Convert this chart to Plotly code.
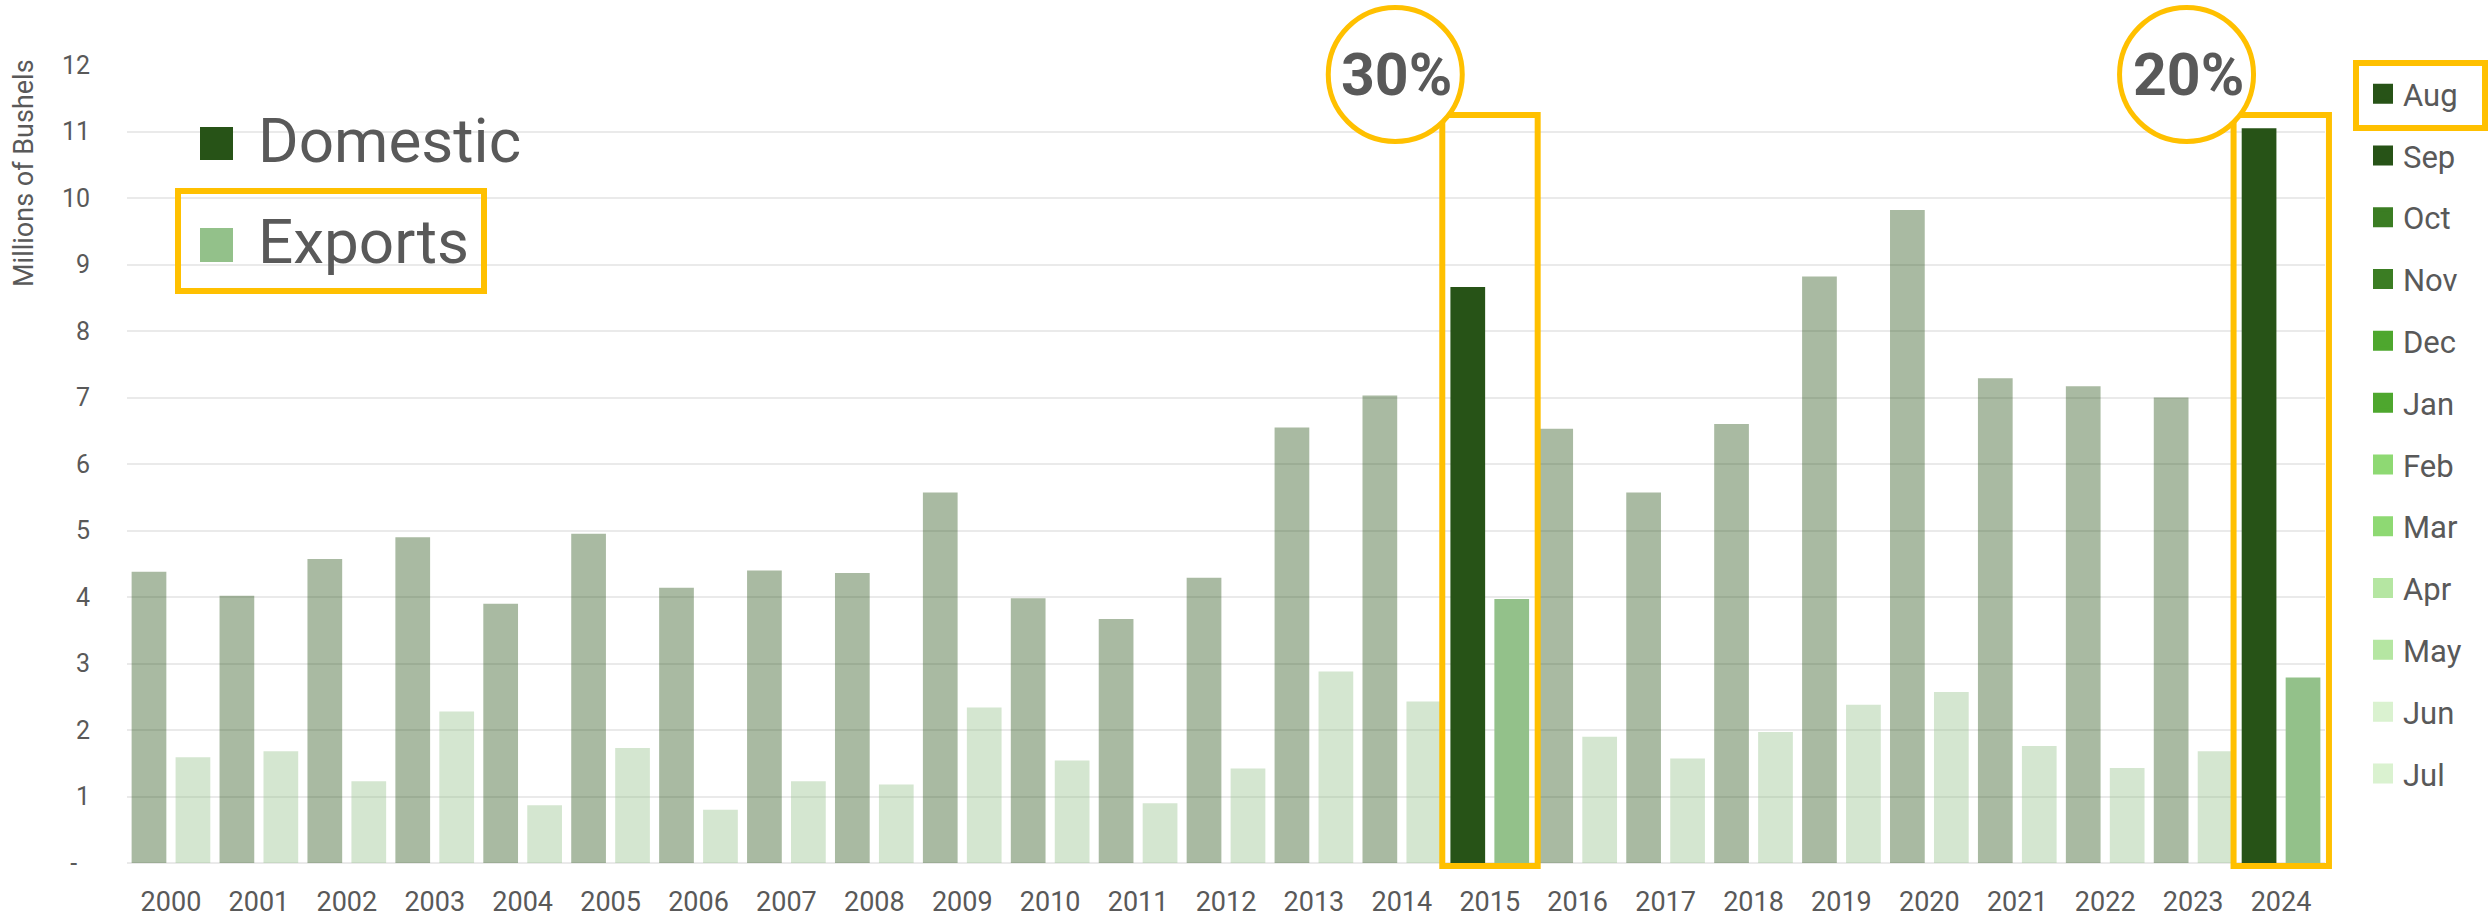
import plotly.graph_objects as go

# ---------------- data ----------------
years = ["2000", "2001", "2002", "2003", "2004", "2005", "2006", "2007", "2008",
         "2009", "2010", "2011", "2012", "2013", "2014", "2015", "2016", "2017",
         "2018", "2019", "2020", "2021", "2022", "2023", "2024"]
domestic = [4.38, 4.02, 4.57, 4.90, 3.90, 4.95, 4.14, 4.40, 4.36, 5.57, 3.98, 3.67,
            4.29, 6.55, 7.03, 8.66, 6.53, 5.57, 6.60, 8.82, 9.82, 7.29, 7.17, 7.00, 11.05]
exports = [1.59, 1.68, 1.23, 2.28, 0.87, 1.73, 0.80, 1.23, 1.18, 2.34, 1.54, 0.90,
           1.42, 2.88, 2.43, 3.97, 1.90, 1.57, 1.97, 2.38, 2.57, 1.76, 1.43, 1.68, 2.79]
highlight_years = ["2015", "2024"]
callout_labels = ["30%", "20%"]
months = ["Aug", "Sep", "Oct", "Nov", "Dec", "Jan", "Feb", "Mar", "Apr", "May", "Jun", "Jul"]
y_tickvals = [0, 1, 2, 3, 4, 5, 6, 7, 8, 9, 10, 11, 12]
y_ticktext = ["-\u2002", "1", "2", "3", "4", "5", "6", "7", "8", "9", "10", "11", "12"]

# ---------------- styles ----------------
FONT = "Roboto, Liberation Sans, sans-serif"
TXT = "#595959"
YELLOW = "#FFC000"
DOM_RGB = (39, 83, 23)
EXP_RGB = (147, 193, 138)
month_colors = ["#275317", "#275317", "#3B7D23", "#3B7D23", "#4EA72E", "#4EA72E",
                "#8ED973", "#8ED973", "#B5E6A2", "#B5E6A2", "#DAF2D0", "#DAF2D0"]
Y_MAX = 12


def rgba(rgb, a):
    return "rgba(%d,%d,%d,%.2f)" % (rgb[0], rgb[1], rgb[2], a)


dom_colors = [rgba(DOM_RGB, 1.0 if y in highlight_years else 0.4) for y in years]
exp_colors = [rgba(EXP_RGB, 1.0 if y in highlight_years else 0.4) for y in years]

fig = go.Figure()
fig.add_trace(go.Bar(x=years, y=domestic, name="Domestic", marker=dict(color=dom_colors, line=dict(width=0)),
                     showlegend=False))
fig.add_trace(go.Bar(x=years, y=exports, name="Exports", marker=dict(color=exp_colors, line=dict(width=0)),
                     showlegend=False))

# month legend (legend-only entries)
for m, c in zip(months, month_colors):
    fig.add_trace(go.Scatter(x=[None], y=[None], mode="markers", name=m, legendgroup=m,
                             marker=dict(symbol="square", size=16, color=c, line=dict(width=4, color=c)),
                             showlegend=True, hoverinfo="skip"))

W, H = 2489, 917
ML, MR, MT, MB = 127, 164, 65, 54
PW = W - ML - MR
PH = H - MT - MB
N = len(years)


def px(xp):
    return (xp - ML) / PW


def py(yp):
    return (H - MB - yp) / PH


def cat_paper(pos):
    # paper x of a category-axis position (range -0.5 .. N-0.5)
    return (pos + 0.5) / N


shapes = []
annotations = []

# highlight boxes + callout circles
for yr, lab in zip(highlight_years, callout_labels):
    i = years.index(yr)
    shapes.append(dict(type="rect", xref="paper", yref="paper",
                       x0=cat_paper(i - 0.54), x1=cat_paper(i + 0.545),
                       y0=-0.045 / Y_MAX, y1=11.25 / Y_MAX,
                       line=dict(color=YELLOW, width=6), fillcolor="rgba(0,0,0,0)", layer="above"))
    shapes.append(dict(type="circle", xref="paper", yref="paper", xsizemode="pixel", ysizemode="pixel",
                       xanchor=cat_paper(i), yanchor=11.857 / Y_MAX,
                       x0=-94.5 - 67, x1=-94.5 + 67, y0=-67, y1=67,
                       line=dict(color=YELLOW, width=5), fillcolor="white", layer="above"))
    annotations.append(dict(xref="x", yref="y", x=i, y=11.857, xshift=-93, text="<b>%s</b>" % lab,
                            showarrow=False, xanchor="center", yanchor="middle",
                            font=dict(family=FONT, size=59, color=TXT)))

# Domestic / Exports legend (drawn)
for name, rgb, ytop, ybot in [("Domestic", DOM_RGB, 127, 160), ("Exports", EXP_RGB, 228, 262)]:
    shapes.append(dict(type="rect", xref="paper", yref="paper", x0=px(200), x1=px(233), y0=py(ybot), y1=py(ytop),
                       line=dict(width=0), fillcolor=rgba(rgb, 1.0), layer="above"))
    annotations.append(dict(xref="paper", yref="paper", x=px(256), y=py((ytop + ybot) / 2 - 3), text=name,
                            showarrow=False, xanchor="left", yanchor="middle",
                            font=dict(family=FONT, size=62, color=TXT)))
shapes.append(dict(type="rect", xref="paper", yref="paper", x0=px(178), x1=px(484), y0=py(291), y1=py(191),
                   line=dict(color=YELLOW, width=6), fillcolor="rgba(0,0,0,0)", layer="above"))
# box around "Aug" legend item
shapes.append(dict(type="rect", xref="paper", yref="paper", x0=px(2356), x1=px(2485), y0=py(128), y1=py(63),
                   line=dict(color=YELLOW, width=6), fillcolor="rgba(0,0,0,0)", layer="above"))

# y-axis title at the top-left
annotations.append(dict(xref="paper", yref="paper", x=px(24), y=py(57), text="Millions of Bushels",
                        textangle=-90, showarrow=False, xanchor="center", yanchor="top",
                        font=dict(family=FONT, size=27, color=TXT)))

fig.update_layout(
    width=W, height=H,
    margin=dict(l=ML, r=MR, t=MT, b=MB, autoexpand=False),
    paper_bgcolor="white", plot_bgcolor="white",
    barmode="group", bargap=0.0, bargroupgap=0.21,
    font=dict(family=FONT, color=TXT),
    shapes=shapes, annotations=annotations,
    legend=dict(x=px(2363), xanchor="left", y=py(67), yanchor="top", traceorder="grouped",
                tracegroupgap=18.5, font=dict(family=FONT, size=31, color=TXT),
                bgcolor="rgba(0,0,0,0)", itemclick=False, itemdoubleclick=False),
    showlegend=True,
)
fig.update_xaxes(type="category", range=[-0.5, N - 0.5], showgrid=False, showline=False,
                 ticks="", tickfont=dict(family=FONT, size=27, color=TXT), ticklabelstandoff=20)
fig.update_yaxes(range=[0, Y_MAX], tickvals=y_tickvals, ticktext=y_ticktext, showgrid=True,
                 gridcolor="#EAEAEA", gridwidth=2, zeroline=True, zerolinecolor="#EAEAEA",
                 zerolinewidth=2, showline=False, ticks="",
                 tickfont=dict(family=FONT, size=25, color=TXT), ticklabelstandoff=36)

fig.write_html("out.html", config={"displayModeBar": False},
               post_script="document.body.style.margin='0';document.body.style.padding='0';"
                           "document.body.style.overflow='hidden';")
